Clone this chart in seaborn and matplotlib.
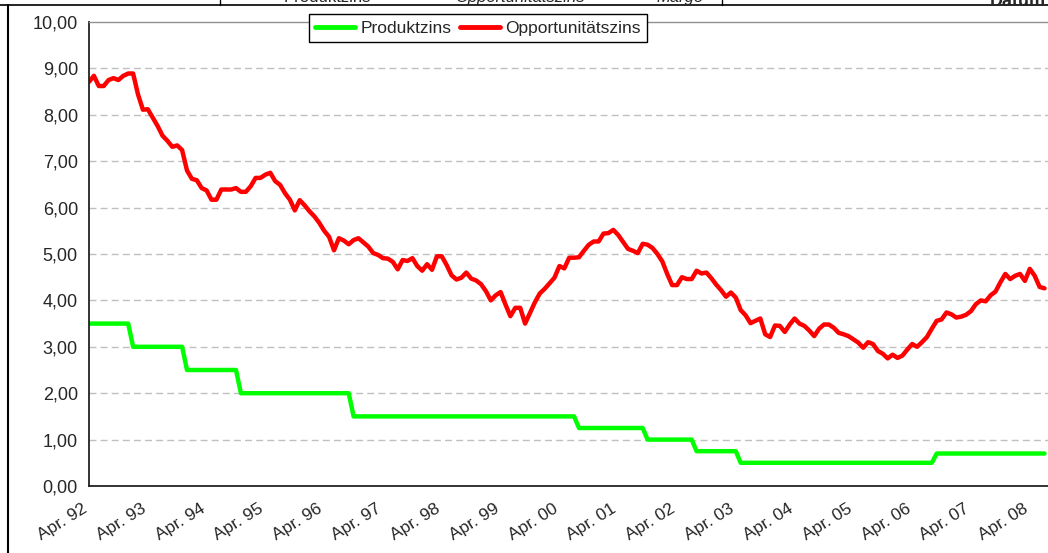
import numpy as np
import pandas as pd
import matplotlib
matplotlib.use("Agg")
import matplotlib.pyplot as plt
import matplotlib.transforms as mtransforms
import seaborn as sns

# Opportunitaetszins, monthly from Apr. 92
opportunity = [
    8.71, 8.84, 8.62, 8.62, 8.75, 8.79, 8.75, 8.84, 8.89, 8.89,
    8.44, 8.11, 8.12, 7.94, 7.76, 7.55, 7.44, 7.31, 7.34, 7.24,
    6.80, 6.62, 6.59, 6.42, 6.37, 6.17, 6.17, 6.39, 6.39, 6.39,
    6.42, 6.34, 6.34, 6.46, 6.64, 6.64, 6.71, 6.75, 6.57, 6.49,
    6.31, 6.17, 5.94, 6.16, 6.05, 5.92, 5.81, 5.67, 5.50, 5.37,
    5.08, 5.34, 5.29, 5.21, 5.30, 5.34, 5.25, 5.16, 5.02, 4.98,
    4.91, 4.90, 4.83, 4.67, 4.87, 4.85, 4.91, 4.74, 4.64, 4.78,
    4.66, 4.95, 4.95, 4.76, 4.54, 4.45, 4.49, 4.60, 4.47, 4.43,
    4.35, 4.20, 4.00, 4.11, 4.18, 3.91, 3.66, 3.84, 3.84, 3.50,
    3.73, 3.96, 4.15, 4.25, 4.37, 4.49, 4.74, 4.69, 4.92, 4.92,
    4.93, 5.07, 5.20, 5.27, 5.27, 5.44, 5.45, 5.52, 5.41, 5.26,
    5.11, 5.07, 5.02, 5.22, 5.20, 5.13, 5.00, 4.84, 4.57, 4.33,
    4.33, 4.50, 4.46, 4.46, 4.64, 4.58, 4.60, 4.48, 4.34, 4.22,
    4.08, 4.17, 4.06, 3.79, 3.68, 3.51, 3.56, 3.61, 3.27, 3.21,
    3.46, 3.45, 3.32, 3.48, 3.61, 3.50, 3.45, 3.35, 3.23, 3.39,
    3.48, 3.48, 3.41, 3.30, 3.27, 3.23, 3.16, 3.09, 2.98, 3.10,
    3.06, 2.91, 2.85, 2.75, 2.83, 2.76, 2.81, 2.94, 3.06, 3.00,
    3.10, 3.21, 3.39, 3.56, 3.59, 3.74, 3.70, 3.63, 3.65, 3.69,
    3.77, 3.92, 4.00, 3.98, 4.11, 4.19, 4.39, 4.57, 4.46, 4.53,
    4.57, 4.42, 4.68, 4.53, 4.29, 4.26,
]

# Produktzins: step levels and how many months each level lasts
product_levels = [3.5, 3.0, 2.5, 2.0, 1.5, 1.25, 1.0, 0.75, 0.5, 0.7]
product_months = [9, 11, 11, 23, 46, 14, 10, 9, 40, 23]

x_labels = ["Apr. 92", "Apr. 93", "Apr. 94", "Apr. 95", "Apr. 96", "Apr. 97",
            "Apr. 98", "Apr. 99", "Apr. 00", "Apr. 01", "Apr. 02", "Apr. 03",
            "Apr. 04", "Apr. 05", "Apr. 06", "Apr. 07", "Apr. 08"]
y_ticks = [0, 1, 2, 3, 4, 5, 6, 7, 8, 9, 10]
y_labels = ["0,00", "1,00", "2,00", "3,00", "4,00", "5,00",
            "6,00", "7,00", "8,00", "9,00", "10,00"]

product = np.repeat(product_levels, product_months)
months = np.arange(len(opportunity))

df = pd.DataFrame({
    "month": np.concatenate([months, months]),
    "zins": np.concatenate([product, opportunity]),
    "serie": ["Produktzins"] * len(months) + ["Opportunitätszins"] * len(months),
})

sns.set_style("white")
plt.rcParams["font.family"] = ["Liberation Sans", "DejaVu Sans"]

fig = plt.figure(figsize=(10.48, 5.53), dpi=100)
ax = fig.add_axes([89 / 1048, 1 - 486 / 553, 959 / 1048, 464 / 553])

colors = {"Produktzins": "#00FF00", "Opportunitätszins": "#FF0000"}
sns.lineplot(data=df, x="month", y="zins", hue="serie", palette=colors,
             linewidth=3.2, ax=ax, legend=False, solid_joinstyle="round")

ax.set_xlim(0, 959 / 4.9)
ax.set_ylim(0, 10)
ax.set_xlabel("")
ax.set_ylabel("")

ax.set_yticks(y_ticks)
ax.set_yticklabels(y_labels, fontsize=13)
ax.set_xticks(np.arange(len(x_labels)) * 12)
ax.set_xticklabels(x_labels, fontsize=12.5, rotation=32, ha="right",
                   rotation_mode="anchor")
ax.tick_params(axis="both", direction="out", length=5, width=1, color="#222222")
ax.tick_params(axis="x", pad=6)
ax.tick_params(axis="y", pad=3)

# shift the slanted month labels a bit to the left, like the sheet does
shift = mtransforms.ScaledTranslation(-7 / 100, 0, fig.dpi_scale_trans)
for lab in ax.get_xticklabels():
    lab.set_transform(lab.get_transform() + shift)

# dashed grey gridlines
for v in y_ticks[1:-1]:
    ax.axhline(v, color="#C0C0C0", lw=1, dashes=(5, 3), zorder=0)

ax.spines["left"].set_color("#222222")
ax.spines["left"].set_linewidth(1.3)
ax.spines["bottom"].set_color("#222222")
ax.spines["bottom"].set_linewidth(1.3)
ax.spines["top"].set_color("#909090")
ax.spines["top"].set_linewidth(1)
ax.spines["right"].set_visible(False)

handles = [plt.Line2D([], [], color="#00FF00", lw=3.5),
           plt.Line2D([], [], color="#FF0000", lw=3.5)]
leg = fig.legend(handles, ["Produktzins", "Opportunitätszins"], ncol=2,
                 loc="center", bbox_to_anchor=(478 / 1048, 1 - 28 / 553),
                 fontsize=12.5, frameon=True, fancybox=False, framealpha=1,
                 edgecolor="black", handlelength=2.3, handletextpad=0.3,
                 columnspacing=0.5, borderpad=0.35)
leg.get_frame().set_linewidth(1)

# cut-off table header of the sheet above the chart
fig.add_artist(plt.Line2D([0, 1], [1 - 5 / 553, 1 - 5 / 553], color="black", lw=1.2))
fig.add_artist(plt.Line2D([8 / 1048, 8 / 1048], [0, 1 - 5 / 553], color="black", lw=1.5))
for xv in [220, 722]:
    fig.add_artist(plt.Line2D([xv / 1048, xv / 1048], [1 - 5 / 553, 1], color="black", lw=1))
fig.text(327 / 1048, 1 - 2 / 553, "Produktzins", fontsize=12, ha="center", va="baseline")
fig.text(520 / 1048, 1 - 2 / 553, "Opportunitätszins", fontsize=12, ha="center",
         va="baseline", style="italic")
fig.text(680 / 1048, 1 - 2 / 553, "Marge", fontsize=12, ha="center", va="baseline",
         style="italic")
fig.text(1046 / 1048, 1 - 6 / 553, "Datum", fontsize=13, ha="right", va="baseline",
         weight="bold")

fig.savefig("out.png", dpi=100)
